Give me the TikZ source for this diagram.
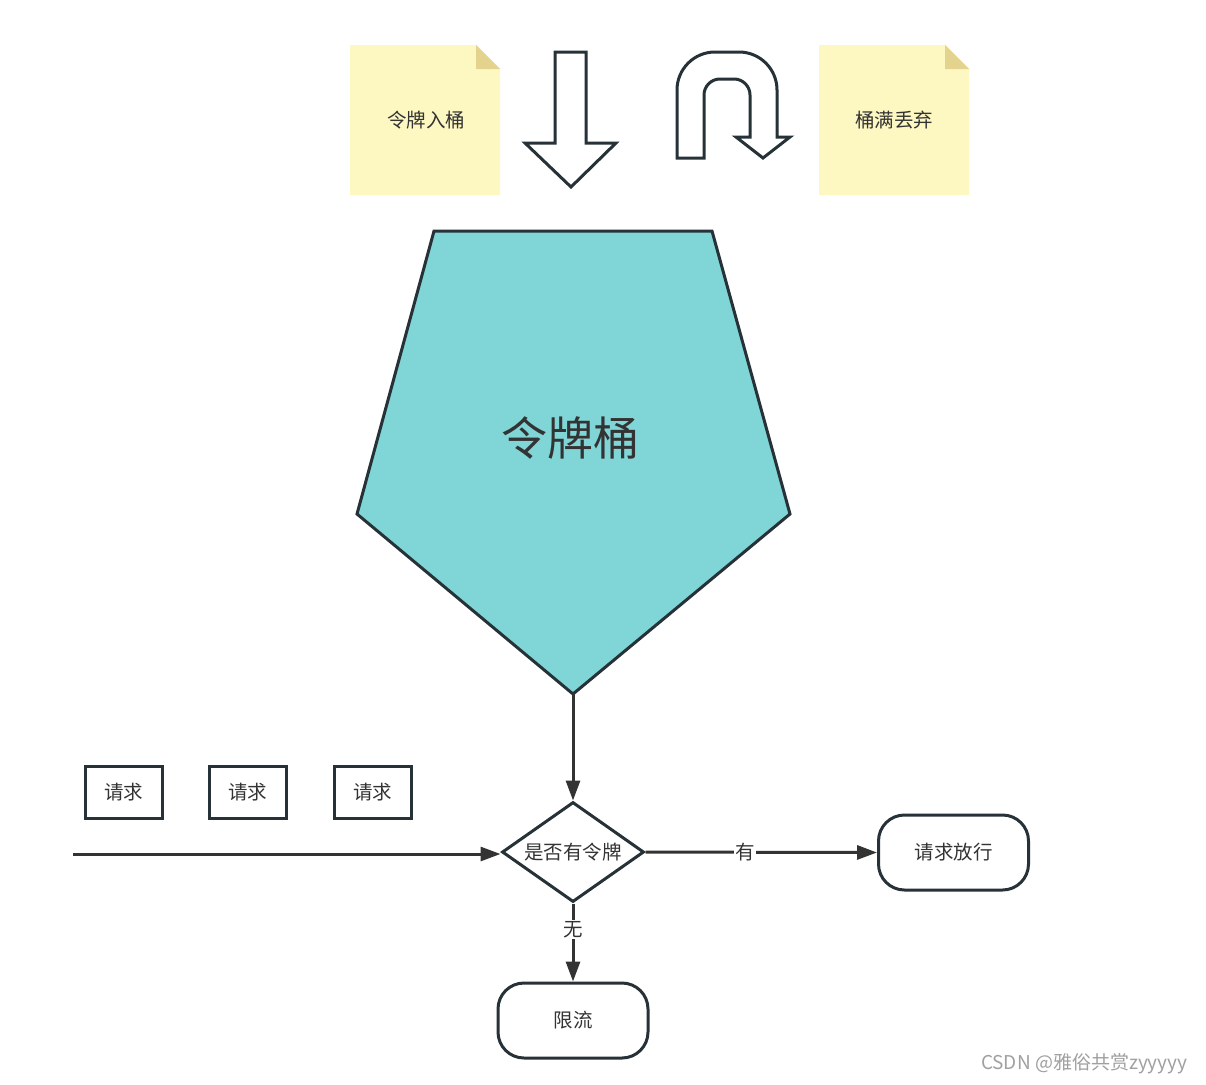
\documentclass[tikz,border=0pt]{standalone}
\usepackage{fontspec}
\setmainfont{Noto Sans CJK SC}
\usetikzlibrary{arrows.meta,shapes.geometric}
\definecolor{ink}{HTML}{263238}
\definecolor{txt}{HTML}{333333}
\definecolor{teal}{HTML}{80D5D6}
\definecolor{note}{HTML}{FDF7C1}
\definecolor{fold}{HTML}{E3D38F}
\definecolor{wm}{HTML}{A0A0A0}
\tikzset{
  lbl/.style={font=\fontsize{19.5}{21}\selectfont, text=txt},
  reqbox/.style={draw=ink, line width=3pt, minimum width=77pt, minimum height=52pt, inner sep=0pt, lbl},
  term/.style={draw=ink, line width=3pt, rounded corners=26pt, minimum width=150pt, minimum height=75pt, inner sep=0pt, lbl},
  decide/.style={draw=ink, line width=3pt, diamond, aspect=1.4, minimum width=142pt, minimum height=100pt, inner sep=0pt, lbl},
  conn/.style={draw=txt, line width=3pt, -{Triangle[length=20pt,width=14pt]}},
  elbl/.style={lbl, fill=white, inner sep=1pt},
  bigarrow/.style={draw=ink, line width=3pt, fill=white, line join=miter},
}
\begin{document}
\begin{tikzpicture}[x=1pt,y=-1pt]
\useasboundingbox[fill=white] (0,0) rectangle (1206,1084);
% notes
\fill[note] (350,45) -- (476,45) -- (500,69) -- (500,195) -- (350,195) -- cycle;
\fill[fold] (476,45) -- (500,69) -- (476,69) -- cycle;
\node[lbl] (n1) at (426,120) {令牌入桶};
\fill[note] (819,45) -- (945,45) -- (969,69) -- (969,195) -- (819,195) -- cycle;
\fill[fold] (945,45) -- (969,69) -- (945,69) -- cycle;
\node[lbl] (n2) at (894,120) {桶满丢弃};
% down arrow
\draw[bigarrow] (555,52) -- (586,52) -- (586,143) -- (616,143) -- (571,187) -- (525,143) -- (555,143) -- cycle;
% U-turn arrow
\draw[bigarrow] (677,158) [rounded corners=38pt] -- (677,52) -- (777,52) [sharp corners] -- (777,137) -- (790,137) -- (763,158) -- (736,137) -- (750,137) [rounded corners=16pt] -- (750,79) -- (704,79) [sharp corners] -- (704,158) -- cycle;
% bucket
\draw[ink, line width=3pt, fill=teal, line join=miter] (434,231) -- (712,231) -- (790,514) -- (573,694) -- (357,514) -- cycle;
\coordinate (pb) at (573,694);
\node[font=\fontsize{46}{50}\selectfont, text=txt] (bucket) at (570,438) {令牌桶};
% requests
\node[reqbox] (r1) at (123.5,792) {请求};
\node[reqbox] (r2) at (247.5,792) {请求};
\node[reqbox] (r3) at (372.5,792) {请求};
% decision
\node[decide] (d) at (573,852) {是否有令牌};
\node[term] (pass) at (953.5,852.5) {请求放行};
\node[term] (lim) at (573,1020.5) {限流};
\coordinate (src) at (73,854);
% connectors
\draw[conn] (pb) -- (d.north);
\draw[conn] (src) -- (src -| d.west);
\draw[conn] (d.east) -- node[elbl, pos=0.43] {有} (pass.west);
\draw[conn] (d.south) -- node[elbl, pos=0.33] {无} (lim.north);
% watermark
\node[font=\fontsize{19}{21}\selectfont, text=wm, anchor=east] (wmk) at (1191,1064) {CSDN @雅俗共赏zyyyyy};
\end{tikzpicture}
\end{document}
